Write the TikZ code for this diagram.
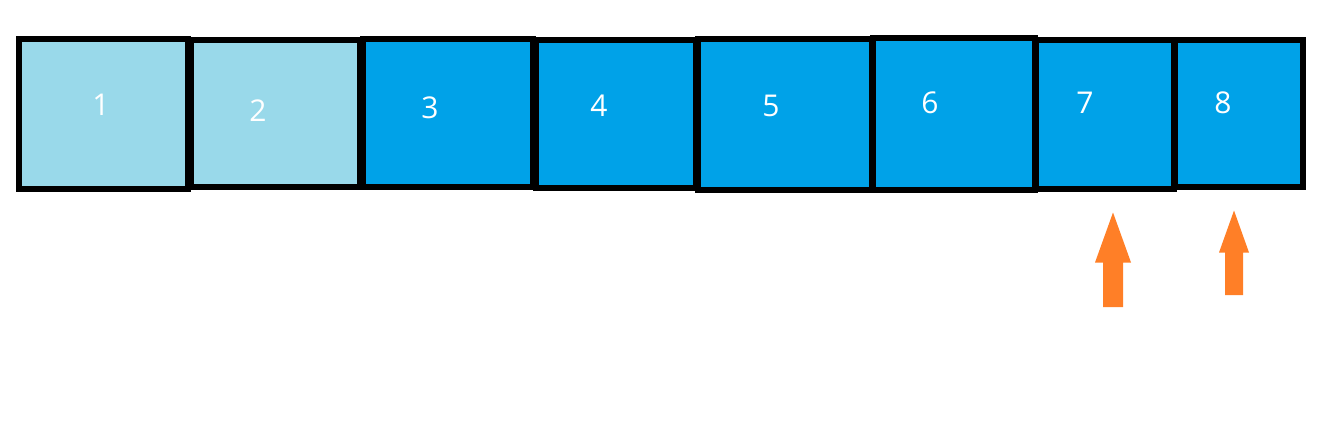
\documentclass[tikz,border=0pt]{standalone}
\usepackage{fontspec}
\setmainfont{Open Sans}
\definecolor{lightcell}{RGB}{153,217,234}
\definecolor{darkcell}{RGB}{0,162,232}
\definecolor{arroworange}{RGB}{255,127,39}
\tikzset{
  cell/.style={draw=black, line width=6pt, rectangle, inner sep=0pt},
  numlabel/.style={text=white, inner sep=0pt, font=\fontsize{30}{30}\selectfont},
  pointer/.style={fill=arroworange, draw=none}
}
\begin{document}
\begin{tikzpicture}[x=1pt,y=-1pt]
\useasboundingbox (0,0) rectangle (1327,424);
\node[cell, fill=lightcell, minimum width=169pt, minimum height=149.5pt] (b1) at (103,113.75) {};
\node[cell, fill=lightcell, minimum width=169pt, minimum height=147pt] (b2) at (275.5,113.5) {};
\node[cell, fill=darkcell, minimum width=169.5pt, minimum height=148pt] (b3) at (447.75,113) {};
\node[cell, fill=darkcell, minimum width=160pt, minimum height=147.5pt] (b4) at (616,113.75) {};
\node[cell, fill=darkcell, minimum width=174pt, minimum height=151.5pt] (b5) at (785,114.25) {};
\node[cell, fill=darkcell, minimum width=162pt, minimum height=152pt] (b6) at (954,114) {};
\node[cell, fill=darkcell, minimum width=138pt, minimum height=149pt] (b7) at (1105,114) {};
\node[cell, fill=darkcell, minimum width=128pt, minimum height=147pt] (b8) at (1239,113.5) {};
\node[numlabel] (l1) at (101,105) {1};
\node[numlabel] (l2) at (258,111) {2};
\node[numlabel] (l3) at (430,108) {3};
\node[numlabel] (l4) at (599,106) {4};
\node[numlabel] (l5) at (771,106) {5};
\node[numlabel] (l6) at (930,103) {6};
\node[numlabel] (l7) at (1085,103) {7};
\node[numlabel] (l8) at (1223,103) {8};
% arrows pointing up at cells 7 and 8
\fill[pointer] (1113,212.5) -- (1131,262.5) -- (1123,262.5) -- (1123,307) -- (1103,307) -- (1103,262.5) -- (1095,262.5) -- cycle;
\fill[pointer] (1234,210.5) -- (1249,252.5) -- (1243,252.5) -- (1243,295) -- (1225,295) -- (1225,252.5) -- (1219,252.5) -- cycle;
\end{tikzpicture}
\end{document}
